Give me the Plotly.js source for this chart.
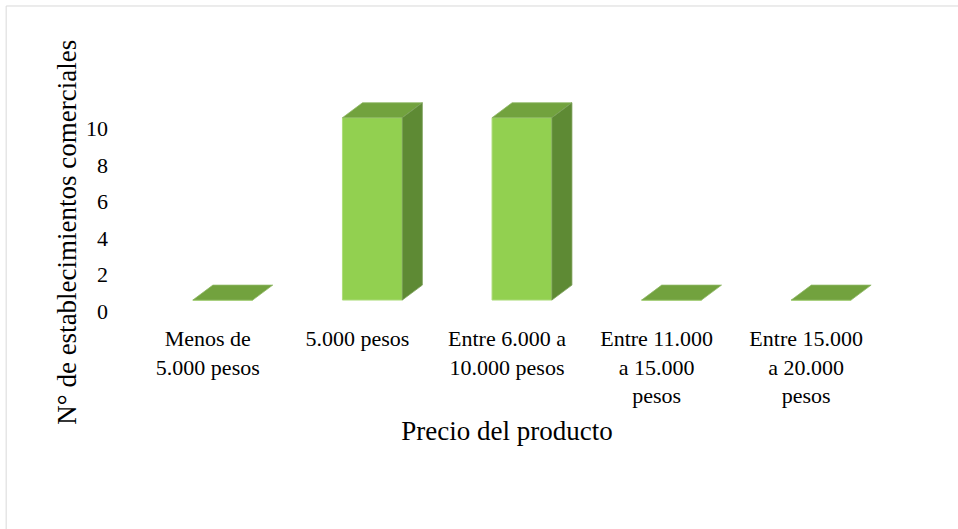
<!DOCTYPE html>
<html>
<head>
<meta charset="utf-8">
<script src="https://cdn.plot.ly/plotly-3.0.1.min.js"></script>
<style>
html,body{margin:0;padding:0;background:#fff;}
#chart{width:958px;height:529px;}
</style>
</head>
<body>
<div id="chart"></div>
<script>
const categories = ["Menos de<br>5.000 pesos", "5.000 pesos", "Entre 6.000 a<br>10.000 pesos", "Entre 11.000<br>a 15.000<br>pesos", "Entre 15.000<br>a 20.000<br>pesos"];
const values = [0, 10, 10, 0, 0];
const yTicks = [0, 2, 4, 6, 8, 10];
const xTitle = "Precio del producto";
const yTitle = "N° de establecimientos comerciales";

// 3D look (style)
const shift = 0.1, bw = 0.4, dx = 0.134, dy = 0.82;
const cFront = "#92D050", cTop = "#72A23E", cSide = "#5E8A34";
const font = "Liberation Serif, Times New Roman, serif";

const idx = categories.map((_, i) => i);
const traces = [{
  type: "bar", x: idx, y: values, width: bw, offset: shift - bw / 2,
  marker: {color: cFront, line: {color: "#aedc7c", width: 1}},
  hoverinfo: "skip", showlegend: false
}];
idx.forEach(i => {
  const v = values[i];
  const l = i + shift - bw / 2, r = i + shift + bw / 2;
  traces.push({
    type: "scatter", mode: "lines", fill: "toself", fillcolor: cTop,
    x: [l, r, r + dx, l + dx, l], y: [v, v, v + dy, v + dy, v],
    line: {width: 0.8, color: "#8fb866"}, hoverinfo: "skip", showlegend: false
  });
  if (v > 0) {
    traces.push({
      type: "scatter", mode: "lines", fill: "toself", fillcolor: cSide,
      x: [r, r + dx, r + dx, r, r], y: [0, dy, v + dy, v, 0],
      line: {width: 0.8, color: "#7a9e58"}, hoverinfo: "skip", showlegend: false
    });
  }
});

const L = 133.25, R = 958 - 880.75, T = 63.4, B = 529 - 310.9;
const W = 958 - L - R, H = 529 - T - B;
const layout = {
  width: 958, height: 529,
  margin: {l: L, r: R, t: T, b: B, pad: 0},
  paper_bgcolor: "#ffffff", plot_bgcolor: "rgba(0,0,0,0)",
  font: {family: font, color: "#000000", size: 22},
  xaxis: {
    range: [-0.5, 4.5], tickvals: idx, ticktext: categories,
    showgrid: false, zeroline: false, showline: false, ticks: "",
    tickfont: {family: font, size: 22, color: "#000"},
    tickangle: 0, automargin: false, ticklabelstandoff: 12,
    title: {text: xTitle, font: {family: font, size: 27, color: "#000"}, standoff: 13}
  },
  yaxis: {
    range: [-0.6, 13], tickvals: yTicks, ticktext: yTicks.map(String),
    showgrid: false, zeroline: false, showline: false, ticks: "",
    tickfont: {family: font, size: 22, color: "#000"},
    ticklabelshift: 11, ticklabelstandoff: 24, automargin: false
  },
  annotations: [{
    text: yTitle, xref: "paper", yref: "paper",
    x: (67 - L) / W, y: (310.9 - 232) / H, xanchor: "center", yanchor: "middle",
    textangle: -90, showarrow: false,
    font: {family: font, size: 27, color: "#000"}
  }],
  shapes: [{
    type: "rect", xref: "paper", yref: "paper", layer: "below",
    x0: (6.5 - L) / W, x1: (1100 - L) / W,
    y0: (310.9 - 6.5) / H, y1: (310.9 - 700) / H,
    line: {color: "#d9d9d9", width: 1}, fillcolor: "rgba(0,0,0,0)"
  }],
  bargap: 0
};
Plotly.newPlot("chart", traces, layout, {displayModeBar: false, staticPlot: true});
</script>
</body>
</html>
